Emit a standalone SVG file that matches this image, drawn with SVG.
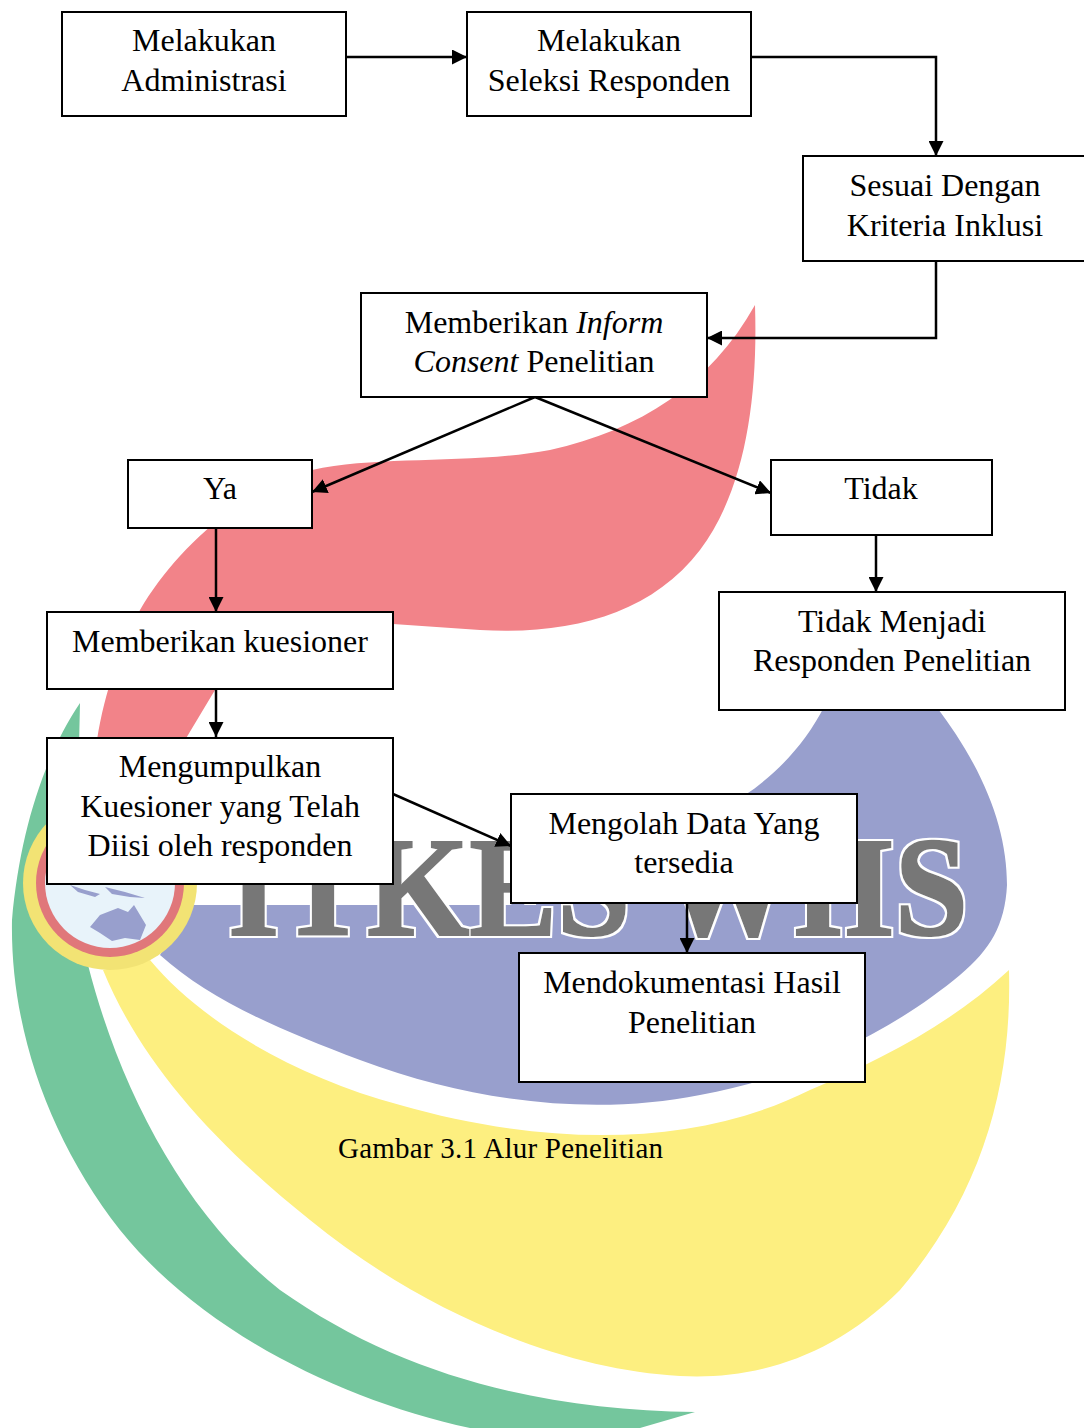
<svg xmlns="http://www.w3.org/2000/svg" width="1084" height="1428" viewBox="0 0 1084 1428">
<style>
.b{fill:#fff;stroke:#000;stroke-width:2}
.t{font-family:"Liberation Serif","Times New Roman",serif;font-size:32px;fill:#000;text-anchor:middle}
.c{fill:none;stroke:#000;stroke-width:2.5;marker-end:url(#a)}
.wm{font-family:"Liberation Serif",serif;font-weight:bold;font-size:141px;fill:#777;filter:url(#o)}
</style>
<defs>
<marker id="a" markerUnits="userSpaceOnUse" markerWidth="16" markerHeight="15" refX="15" refY="7.5" orient="auto"><path d="M0 0L15 7.5L0 15Z" fill="#000"/></marker>
<filter id="o" x="-5%" y="-10%" width="110%" height="120%"><feMorphology in="SourceAlpha" operator="dilate" radius="1" result="d1"/><feMorphology in="SourceAlpha" operator="dilate" radius="3" result="d2"/><feFlood flood-color="#fff"/><feComposite in2="d2" operator="in" result="w"/><feFlood flood-color="#777"/><feComposite in2="d1" operator="in" result="g"/><feMerge><feMergeNode in="w"/><feMergeNode in="g"/></feMerge></filter>
</defs>
<rect width="1084" height="1428" fill="#fff"/>
<g id="watermark">
<path fill="#74C69D" d="M80 703C45 755 20 830 12 920C10 1030 50 1140 120 1230C200 1330 340 1400 470 1428L640 1428L695 1412C540 1410 400 1375 280 1290C185 1215 120 1090 88 965L78 790Z"/>
<path fill="#FDEF80" d="M1009 970C1012 1080 985 1190 900 1290C830 1360 750 1380 680 1376C560 1370 420 1310 310 1220C210 1140 140 1060 103 970L150 960C200 1020 290 1075 400 1105C540 1145 690 1150 810 1090C880 1060 950 1025 1009 970Z"/>
<path fill="#989FCD" d="M825 705L935 705C985 770 1007 830 1007 885C1005 925 990 950 960 975C900 1025 810 1075 700 1095C600 1115 480 1105 360 1060C280 1030 210 1000 160 955L190 905L510 905L745 795C775 775 805 745 825 705Z"/>
<path fill="#F28389" d="M755 305C758 400 745 490 700 550C650 615 570 635 480 630L393 624L215 690L185 740L97 740C105 690 120 650 140 610C175 550 240 490 312 470C380 455 470 465 550 450C640 430 710 385 755 305Z"/>
<circle cx="110" cy="883" r="87" fill="#F2E374"/>
<circle cx="110" cy="883" r="74" fill="#E0777A"/>
<circle cx="110" cy="883" r="65" fill="#E8F3FA"/>
<path fill="#989FCD" d="M90 927L100 915L118 908L128 912L134 905L146 925L140 940L125 938L112 941L100 933Z"/>
<path fill="#989FCD" d="M70 885L85 890L100 894L95 897L78 892ZM105 887L125 892L145 898L130 897L112 894Z"/>
<text class="wm" x="228" y="935" textLength="740" lengthAdjust="spacingAndGlyphs">ITKES WIIS</text>
</g>
<g id="connectors">
<path class="c" d="M346 57H467"/>
<path class="c" d="M751 57H936V156"/>
<path class="c" d="M936 261V338H707"/>
<path class="c" d="M535 397L312 492"/>
<path class="c" d="M535 397L771 493"/>
<path class="c" d="M216 528V612"/>
<path class="c" d="M876 535V592"/>
<path class="c" d="M216 689V737"/>
<path class="c" d="M393 794L511 846"/>
<path class="c" d="M687 903V953"/>
</g>
<g id="n1"><rect class="b" x="62" y="12" width="284" height="104"/><text class="t" x="204" y="51">Melakukan</text><text class="t" x="204" y="91">Administrasi</text></g>
<g id="n2"><rect class="b" x="467" y="12" width="284" height="104"/><text class="t" x="609" y="51">Melakukan</text><text class="t" x="609" y="91">Seleksi Responden</text></g>
<g id="n3"><rect class="b" x="803" y="156" width="284" height="105"/><text class="t" x="945" y="196">Sesuai Dengan</text><text class="t" x="945" y="236">Kriteria Inklusi</text></g>
<g id="n4"><rect class="b" x="361" y="293" width="346" height="104"/><text class="t" x="534" y="333">Memberikan <tspan font-style="italic">Inform</tspan></text><text class="t" x="534" y="372"><tspan font-style="italic">Consent</tspan> Penelitian</text></g>
<g id="n5"><rect class="b" x="128" y="460" width="184" height="68"/><text class="t" x="220" y="499">Ya</text></g>
<g id="n6"><rect class="b" x="771" y="460" width="221" height="75"/><text class="t" x="881" y="499">Tidak</text></g>
<g id="n7"><rect class="b" x="47" y="612" width="346" height="77"/><text class="t" x="220" y="652">Memberikan kuesioner</text></g>
<g id="n8"><rect class="b" x="719" y="592" width="346" height="118"/><text class="t" x="892" y="632">Tidak Menjadi</text><text class="t" x="892" y="671">Responden Penelitian</text></g>
<g id="n9"><rect class="b" x="47" y="738" width="346" height="146"/><text class="t" x="220" y="777">Mengumpulkan</text><text class="t" x="220" y="817">Kuesioner yang Telah</text><text class="t" x="220" y="856">Diisi oleh responden</text></g>
<g id="n10"><rect class="b" x="511" y="794" width="346" height="109"/><text class="t" x="684" y="834">Mengolah Data Yang</text><text class="t" x="684" y="873">tersedia</text></g>
<g id="n11"><rect class="b" x="519" y="953" width="346" height="129"/><text class="t" x="692" y="993">Mendokumentasi Hasil</text><text class="t" x="692" y="1033">Penelitian</text></g>
<text x="338" y="1158" style="font-family:'Liberation Serif',serif;font-size:29px;fill:#000" textLength="325">Gambar 3.1 Alur Penelitian</text>
</svg>
